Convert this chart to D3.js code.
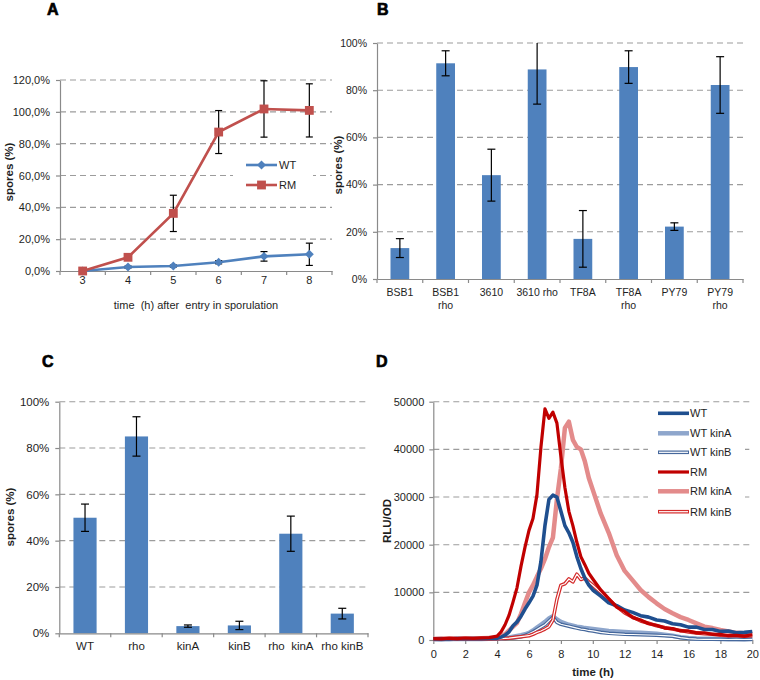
<!DOCTYPE html>
<html><head><meta charset="utf-8">
<script src="https://cdn.jsdelivr.net/npm/d3@7"></script>
<style>
body{margin:0;background:#fff}
svg{display:block}
text{font-family:"Liberation Sans",Arial,sans-serif}
</style>
</head><body>
<svg id="chart" width="760" height="680"></svg>
<script>
// ---------- Panel A data ----------
const aHours = ["3","4","5","6","7","8"];
const aWT = [0, 2.5, 3.1, 5.5, 9.2, 10.5];
const aWTErr = [0, 0.6, 0.6, 1, 3, 7];
const aRM = [0, 8.6, 36.2, 87.3, 101.8, 100.9];
const aRMErr = [0, 1, 11.4, 13.5, 17.7, 16.7];
const aTicks = [0, 20, 40, 60, 80, 100, 120];

// ---------- Panel B data ----------
const bStrains = ["BSB1", "BSB1\nrho", "3610", "3610 rho", "TF8A", "TF8A\nrho", "PY79", "PY79\nrho"];
const bValues = [13.1, 91.4, 44, 88.8, 17, 89.8, 22.2, 82.2];
const bErr = [4, 5.3, 11, 14.7, 12, 6.9, 1.6, 12];
const bTicks = [0, 20, 40, 60, 80, 100];

// ---------- Panel C data ----------
const cStrains = ["WT", "rho", "kinA", "kinB", "rho  kinA", "rho kinB"];
const cValues = [49.9, 85, 3.1, 3.4, 43, 8.5];
const cErr = [5.9, 8.5, 0.5, 1.8, 7.6, 2.3];
const cTicks = [0, 20, 40, 60, 80, 100];

// ---------- Panel D data ----------
const dTime = [0,0.5,1,1.5,2,2.5,3,3.5,4,
  4.25,4.5,4.75,5,5.25,5.5,5.75,6,6.25,6.5,6.75,7,7.25,7.5,7.75,8,8.25,8.5,8.75,9,9.25,9.5,9.75,10,
  10.5,11,11.5,12,12.5,13,13.5,14,14.5,15,15.5,16,16.5,17,17.5,18,18.5,19,19.5,20];
const dWT = [200,250,200,300,250,300,250,300,350,
  600,1000,1700,3000,3800,5000,6500,7800,9200,11500,16500,24000,29500,30400,30000,27000,24000,22500,20500,17500,15000,13000,11500,10500,
  9200,7800,7200,6300,5800,5100,4800,4200,4000,3400,3200,2700,2700,2200,2200,1800,1900,1500,1600,1800];
const dWTkinA = [150,200,150,250,200,250,200,250,300,
  350,450,550,700,850,1000,1200,1500,2000,2600,3200,3800,4500,5000,4300,3800,3500,3200,3000,2800,2700,2500,2400,2300,
  2100,1900,1800,1700,1600,1500,1400,1300,1100,900,600,400,300,250,250,200,200,200,150,200];
const dWTkinB = [150,100,200,150,200,150,200,200,250,
  300,350,400,450,550,700,950,1300,1700,2200,2700,3200,4000,4800,3700,3300,3100,2900,2700,2500,2300,2200,2000,1900,
  1600,1400,1300,1200,1150,1100,1050,1000,900,800,500,300,200,150,150,150,100,150,100,150];
const dRM = [300,250,380,300,420,350,450,500,800,
  1700,3200,5200,8000,11000,15500,19500,23000,25500,30500,40500,48500,46500,47800,45500,38500,32000,27000,24000,20500,17500,15800,14000,12800,
  10500,8700,6900,6000,4700,4200,3400,3100,2500,2400,1900,1900,1500,1500,1200,1200,900,1000,800,1100];
const dRMkinA = [200,300,250,300,350,300,350,400,400,
  700,1200,2000,2800,3600,5500,7800,10000,11500,13300,15000,17000,19500,21500,29500,36000,44500,45800,42000,40500,40000,37500,34000,31500,
  26500,22500,17800,14500,12500,10500,9000,7700,6500,5600,4800,4200,3500,2800,2500,2100,1800,1500,1400,1200];
const dRMkinB = [200,150,250,200,250,200,250,200,250,
  300,350,400,500,600,700,800,900,1200,1600,1900,2300,2800,4200,8500,11500,11800,12800,12200,13800,12700,13000,12200,11500,
  10000,8500,7000,5700,4800,4000,3500,3000,2600,2300,2000,1700,1500,1300,1200,1000,900,900,800,900];
const dSeriesNames = ["WT", "WT kinA", "WT kinB", "RM", "RM kinA", "RM kinB"];
const dXTicks = [0,2,4,6,8,10,12,14,16,18,20];
const dYTicks = [0,10000,20000,30000,40000,50000];

// ---------- styles ----------
const AX = "#8a8a8a", GRID = "#9c9c9c", BAR = "#4F81BD", TXT = "#1e1e1e";
const FONT = '"Liberation Sans", Arial, sans-serif';
const svg = d3.select("#chart");

function styleAxis(g, fs) {
  g.attr("font-family", FONT).attr("font-size", fs);
  g.select(".domain").attr("stroke", AX).attr("stroke-width", 1.2);
  g.selectAll(".tick line").attr("stroke", AX).attr("stroke-width", 1.2);
  g.selectAll(".tick text").attr("fill", TXT);
}
function grid(y, x0, x1, ticks) {
  svg.append("g").selectAll("line").data(ticks.filter(t => t > 0)).join("line")
    .attr("x1", x0).attr("x2", x1).attr("y1", d => y(d)).attr("y2", d => y(d))
    .attr("stroke", GRID).attr("stroke-width", 1.1).attr("stroke-dasharray", "6,4");
}
function yTitle(txt, x, cy) {
  svg.append("text").attr("transform", `translate(${x},${cy}) rotate(-90)`)
    .attr("text-anchor", "middle").attr("font-weight", "bold").attr("font-size", 11.5)
    .attr("fill", TXT).text(txt);
}
function panelTitle(txt, x, y) {
  svg.append("text").attr("x", x).attr("y", y).attr("font-size", 16).attr("font-weight", "bold")
    .attr("fill", "#000").attr("stroke", "#000").attr("stroke-width", 0.7).text(txt);
}
function boundaryTicks(band, yAxis, len) {
  const xs = band.domain().map(d => band(d)).concat([band.range()[1]]);
  svg.append("g").selectAll("line").data(xs).join("line")
    .attr("x1", d => d).attr("x2", d => d).attr("y1", yAxis).attr("y2", yAxis + len)
    .attr("stroke", AX).attr("stroke-width", 1.2);
}
function errorBars(xs, vals, errs, y, cap, maxV) {
  const g = svg.append("g");
  vals.forEach((v, i) => {
    if (!errs[i]) return;
    const top = Math.min(v + errs[i], maxV), bot = v - errs[i];
    const x = xs[i];
    g.append("line").attr("x1", x).attr("x2", x).attr("y1", y(top)).attr("y2", y(bot))
      .attr("stroke", "#000").attr("stroke-width", 1.2);
    if (v + errs[i] <= maxV)
      g.append("line").attr("x1", x - cap / 2).attr("x2", x + cap / 2).attr("y1", y(top)).attr("y2", y(top))
        .attr("stroke", "#000").attr("stroke-width", 1.2);
    g.append("line").attr("x1", x - cap / 2).attr("x2", x + cap / 2).attr("y1", y(bot)).attr("y2", y(bot))
      .attr("stroke", "#000").attr("stroke-width", 1.2);
  });
}

// =============== Panel A ===============
(function () {
  const L = 60, R = 332, T = 80, B = 271;
  const x = d3.scaleBand().domain(aHours).range([L, R]).padding(0);
  const y = d3.scaleLinear().domain([0, 120]).range([B, T]);
  grid(y, L, R, aTicks);
  svg.append("rect").attr("x", 233).attr("y", 155).attr("width", 80).attr("height", 40).attr("fill", "#fff");
  const ya = svg.append("g").attr("transform", `translate(${L},0)`)
    .call(d3.axisLeft(y).tickValues(aTicks).tickSize(4).tickSizeOuter(0).tickPadding(6)
      .tickFormat(d => d.toFixed(1).replace(".", ",") + "%"));
  styleAxis(ya, 11);
  const xa = svg.append("g").attr("transform", `translate(0,${B})`)
    .call(d3.axisBottom(x).tickSize(0).tickPadding(5).tickSizeOuter(0));
  styleAxis(xa, 11);
  boundaryTicks(x, B, 4);
  const cx = aHours.map(h => x(h) + x.bandwidth() / 2);
  const line = d3.line().x((d, i) => cx[i]).y(d => y(d));
  svg.append("path").datum(aWT).attr("d", line).attr("fill", "none").attr("stroke", "#4F81BD").attr("stroke-width", 2.6);
  svg.append("path").datum(aRM).attr("d", line).attr("fill", "none").attr("stroke", "#C0504D").attr("stroke-width", 2.6);
  errorBars(cx, aWT, aWTErr, y, 7, 1000);
  errorBars(cx, aRM, aRMErr, y, 7, 1000);
  const diamond = d3.symbol().type(d3.symbolSquare).size(40);
  const square = d3.symbol().type(d3.symbolSquare).size(78);
  svg.append("g").selectAll("path").data(aWT).join("path")
    .attr("transform", (d, i) => `translate(${cx[i]},${y(d)}) rotate(45)`).attr("d", diamond).attr("fill", "#4F81BD");
  svg.append("g").selectAll("path").data(aRM).join("path")
    .attr("transform", (d, i) => `translate(${cx[i]},${y(d)})`).attr("d", square).attr("fill", "#C0504D");
  const lg = [["WT", "#4F81BD", diamond, 45, 165], ["RM", "#C0504D", square, 0, 185]];
  lg.forEach(([n, c, sym, rot, ly]) => {
    svg.append("line").attr("x1", 246).attr("x2", 277).attr("y1", ly).attr("y2", ly).attr("stroke", c).attr("stroke-width", 2.6);
    svg.append("path").attr("d", sym).attr("transform", `translate(261.5,${ly}) rotate(${rot})`).attr("fill", c);
    svg.append("text").attr("x", 279).attr("y", ly).attr("dy", "0.36em").attr("font-size", 11).attr("fill", TXT).text(n);
  });
  yTitle("spores (%)", 13, 172);
  svg.append("text").attr("x", 196).attr("y", 309).attr("text-anchor", "middle").attr("font-size", 11)
    .attr("fill", TXT).style("white-space", "pre").text("time  (h) after  entry in sporulation");
  panelTitle("A", 47, 15);
})();

// =============== Panel B ===============
(function () {
  const L = 377, R = 743, T = 43, B = 279;
  const x = d3.scaleBand().domain(bStrains).range([L, R]).padding(0);
  const y = d3.scaleLinear().domain([0, 100]).range([B, T]);
  grid(y, L, R, bTicks);
  const bw = x.bandwidth() * 0.41;
  svg.append("g").selectAll("rect").data(bValues).join("rect")
    .attr("x", (d, i) => x(bStrains[i]) + (x.bandwidth() - bw) / 2).attr("width", bw)
    .attr("y", d => y(d)).attr("height", d => B - y(d)).attr("fill", BAR);
  const ya = svg.append("g").attr("transform", `translate(${L},0)`)
    .call(d3.axisLeft(y).tickValues(bTicks).tickSize(4).tickSizeOuter(0).tickPadding(6).tickFormat(d => d + "%"));
  styleAxis(ya, 10.5);
  const xa = svg.append("g").attr("transform", `translate(0,${B})`)
    .call(d3.axisBottom(x).tickSize(0).tickPadding(10).tickSizeOuter(0));
  styleAxis(xa, 10.5);
  xa.selectAll(".tick text").each(function (d) {
    const t = d3.select(this); const parts = d.split("\n");
    t.text(null);
    parts.forEach((p, i) => t.append("tspan").attr("x", 0).attr("dy", i === 0 ? "0.71em" : "1.15em").text(p));
  });
  boundaryTicks(x, B, 4);
  const cx = bStrains.map(s => x(s) + x.bandwidth() / 2);
  errorBars(cx, bValues, bErr, y, 8, 100);
  yTitle("spores (%)", 342, 165);
  panelTitle("B", 377, 15);
})();

// =============== Panel C ===============
(function () {
  const L = 59.3, R = 368, T = 401.7, B = 633.3;
  const x = d3.scaleBand().domain(cStrains).range([L, R]).padding(0);
  const y = d3.scaleLinear().domain([0, 100]).range([B, T]);
  grid(y, L, R, cTicks);
  const bw = x.bandwidth() * 0.45;
  svg.append("g").selectAll("rect").data(cValues).join("rect")
    .attr("x", (d, i) => x(cStrains[i]) + (x.bandwidth() - bw) / 2).attr("width", bw)
    .attr("y", d => y(d)).attr("height", d => B - y(d)).attr("fill", BAR);
  const ya = svg.append("g").attr("transform", `translate(${L},0)`)
    .call(d3.axisLeft(y).tickValues(cTicks).tickSize(4).tickSizeOuter(0).tickPadding(6).tickFormat(d => d + "%"));
  styleAxis(ya, 11.5);
  const xa = svg.append("g").attr("transform", `translate(0,${B})`)
    .call(d3.axisBottom(x).tickSize(0).tickPadding(9).tickSizeOuter(0));
  styleAxis(xa, 11.5);
  xa.selectAll(".tick text").style("white-space", "pre");
  boundaryTicks(x, B, 4);
  const cx = cStrains.map(s => x(s) + x.bandwidth() / 2);
  errorBars(cx, cValues, cErr, y, 8, 100);
  yTitle("spores (%)", 14, 517);
  panelTitle("C", 42, 367);
})();

// =============== Panel D ===============
(function () {
  const L = 433.3, R = 752.3, T = 401.7, B = 640;
  const x = d3.scaleLinear().domain([0, 20]).range([L, R]);
  const y = d3.scaleLinear().domain([0, 50000]).range([B, T]);
  grid(y, L, R, dYTicks);
  const ya = svg.append("g").attr("transform", `translate(${L},0)`)
    .call(d3.axisLeft(y).tickValues(dYTicks).tickSize(4).tickSizeOuter(0).tickPadding(5).tickFormat(d3.format("d")));
  styleAxis(ya, 11);
  const xa = svg.append("g").attr("transform", `translate(0,${B})`)
    .call(d3.axisBottom(x).tickValues(dXTicks).tickSize(4).tickSizeOuter(0).tickPadding(6).tickFormat(d3.format("d")));
  styleAxis(xa, 11);
  const line = d3.line().x((d, i) => x(dTime[i])).y(d => y(d)).curve(d3.curveLinear);
  const series = [
    {name: dSeriesNames[1], v: dWTkinA, c: "#8EA6CC", w: 4.5, dbl: false},
    {name: dSeriesNames[2], v: dWTkinB, c: "#46689C", w: 3.6, dbl: true},
    {name: dSeriesNames[4], v: dRMkinA, c: "#E38B8B", w: 4.5, dbl: false},
    {name: dSeriesNames[5], v: dRMkinB, c: "#D42A2A", w: 3.6, dbl: true},
    {name: dSeriesNames[0], v: dWT, c: "#1F4F8F", w: 3.6, dbl: false},
    {name: dSeriesNames[3], v: dRM, c: "#C00000", w: 3.2, dbl: false}
  ];
  // legend background (hides gridlines like the original)
  svg.append("rect").attr("x", 648).attr("y", 403).attr("width", 97).attr("height", 118).attr("fill", "#fff");
  const lineG = svg.append("g").attr("stroke-linejoin", "round").attr("fill", "none");
  series.forEach(s => {
    lineG.append("path").datum(s.v).attr("d", line).attr("stroke", s.c).attr("stroke-width", s.w);
    if (s.dbl) lineG.append("path").datum(s.v).attr("d", line).attr("stroke", "#fff").attr("stroke-width", 1.2);
  });
  const order = [4, 0, 1, 5, 2, 3];
  const rows = [413.3, 433.3, 452.3, 472, 491.3, 511.7];
  order.forEach((si, r) => {
    const s = series[si], ly = rows[r];
    svg.append("line").attr("x1", 658).attr("x2", 689).attr("y1", ly).attr("y2", ly)
      .attr("stroke", s.c).attr("stroke-width", s.w);
    if (s.dbl) svg.append("line").attr("x1", 659).attr("x2", 688).attr("y1", ly).attr("y2", ly)
      .attr("stroke", "#fff").attr("stroke-width", 1.2);
    svg.append("text").attr("x", 690).attr("y", ly).attr("dy", "0.36em").attr("font-size", 11)
      .attr("fill", TXT).text(s.name);
  });
  yTitle("RLU/OD", 391, 521);
  svg.append("text").attr("x", 593).attr("y", 676).attr("text-anchor", "middle").attr("font-size", 11.5)
    .attr("font-weight", "bold").attr("fill", TXT).text("time (h)");
  panelTitle("D", 376, 367);
})();
</script>
</body></html>
